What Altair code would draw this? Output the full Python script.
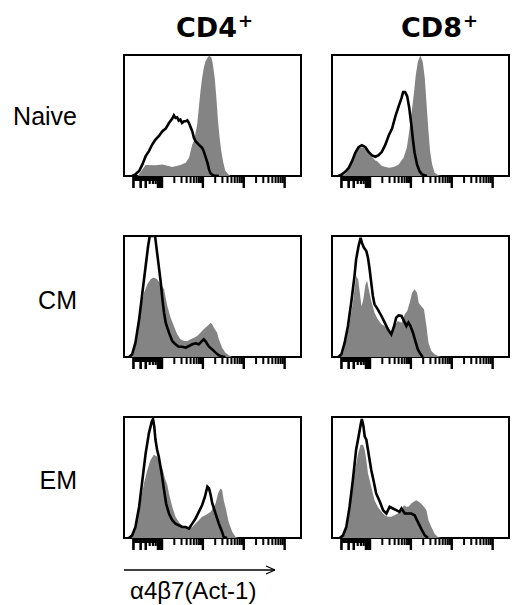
import math
import altair as alt
import pandas as pd

COLUMN_TITLES = ["CD4", "CD8"]
ROW_TITLES = ["Naive", "CM", "EM"]
X_LABEL = "α4β7(Act-1)"

# (log10 fluorescence, % of max)
CD4_NAIVE_FILL = [(0.40, 0), (0.44, 1.4), (0.52, 5.5), (0.60, 9.0), (0.84, 8.8), (1.01, 9.6), (1.13, 8.5),
                  (1.25, 7.4), (1.45, 9.0), (1.58, 11.0), (1.66, 15.1), (1.70, 20.5), (1.74, 26), (1.78, 28.8),
                  (1.82, 35.6), (1.86, 42.5), (1.90, 56.2), (1.94, 69.9), (1.98, 80.8), (2.02, 89), (2.06, 94.5),
                  (2.11, 97.8), (2.16, 99.5), (2.21, 97.8), (2.24, 93.2), (2.29, 80.8), (2.33, 64.4), (2.37, 45.2),
                  (2.41, 31.5), (2.45, 20.5), (2.50, 11), (2.55, 4.1), (2.62, 1.4), (2.67, 0)]
CD4_NAIVE_LINE = [(0.27, 0), (0.35, 1.4), (0.44, 4.1), (0.52, 9.6), (0.60, 16.4), (0.68, 20.5), (0.76, 26),
                  (0.84, 30.1), (0.92, 32.9), (1.01, 37), (1.09, 39.2), (1.17, 43.8), (1.25, 47.4), (1.29, 50.1),
                  (1.33, 48), (1.37, 48.5), (1.41, 45.8), (1.45, 46.6), (1.49, 43.8), (1.54, 45.2), (1.58, 45.2),
                  (1.62, 46), (1.66, 43.8), (1.70, 40.3), (1.74, 37), (1.78, 31.5), (1.82, 28.8), (1.90, 26),
                  (1.98, 23.3), (2.02, 20.5), (2.06, 16.4), (2.11, 11), (2.15, 5.5), (2.19, 1.9), (2.27, 0.3),
                  (2.39, 0)]

CD8_NAIVE_FILL = [(0.31, 0), (0.40, 1.9), (0.48, 5.5), (0.56, 12.3), (0.64, 17.8), (0.72, 22.7), (0.80, 23.8),
                  (0.89, 22.7), (0.97, 19.2), (1.05, 15.6), (1.13, 12.9), (1.17, 12.3), (1.29, 8.2), (1.46, 6.8),
                  (1.58, 7.4), (1.70, 9.6), (1.82, 15.1), (1.90, 23.3), (1.96, 37), (2.01, 50.7), (2.07, 67.1),
                  (2.12, 83.6), (2.17, 94.5), (2.23, 99.5), (2.29, 94.5), (2.34, 80.8), (2.39, 56.2), (2.43, 37),
                  (2.47, 20.5), (2.52, 9.6), (2.58, 2.7), (2.68, 0.5), (2.76, 0)]
CD8_NAIVE_LINE = [(0.23, 0), (0.31, 1.4), (0.40, 3.6), (0.48, 6.8), (0.56, 12.3), (0.64, 19.2), (0.72, 23.8),
                  (0.80, 25.5), (0.89, 23.8), (0.97, 19.7), (1.05, 17), (1.13, 15.9), (1.21, 17.3), (1.29, 20),
                  (1.37, 25.5), (1.46, 33.7), (1.54, 39.2), (1.62, 49.3), (1.70, 57.5), (1.77, 64.4), (1.81, 69.3),
                  (1.86, 69.3), (1.91, 65.8), (1.96, 56.2), (2.01, 42.5), (2.05, 30.1), (2.09, 19.2), (2.15, 9.6),
                  (2.21, 4.1), (2.27, 1.4), (2.39, 0)]

CD4_CM_FILL = [(0.23, 0), (0.31, 3.6), (0.40, 17.4), (0.48, 39.4), (0.56, 53.2), (0.64, 60.1), (0.72, 64.2),
               (0.80, 65.6), (0.88, 64.2), (0.97, 60.1), (1.05, 55.9), (1.13, 42.2), (1.21, 32.5), (1.29, 25.6),
               (1.37, 18.7), (1.45, 14.6), (1.54, 13.2), (1.62, 13.2), (1.70, 14.6), (1.78, 16), (1.86, 17.4),
               (1.94, 20.1), (2.02, 22.9), (2.11, 25.6), (2.19, 28.4), (2.23, 27), (2.27, 24.2), (2.35, 20.1),
               (2.39, 14.6), (2.47, 7.7), (2.55, 3.6), (2.63, 1.4), (2.72, 0)]
CD4_CM_LINE = [(0.19, 0), (0.27, 2.2), (0.35, 11.8), (0.44, 31.1), (0.52, 53.2), (0.60, 75.2), (0.66, 91.7),
               (0.70, 100), (0.83, 100), (0.86, 91.7), (0.91, 78), (0.97, 61.4), (1.01, 47.7), (1.05, 36.6),
               (1.09, 28.4), (1.17, 20.1), (1.25, 13.2), (1.33, 10.5), (1.41, 8.5), (1.49, 8.5), (1.58, 7.7),
               (1.66, 9.1), (1.74, 10.5), (1.82, 11.3), (1.90, 10.5), (1.98, 13.2), (2.02, 14.6), (2.06, 13.2),
               (2.11, 10.5), (2.15, 8.5), (2.23, 6.3), (2.31, 3.6), (2.39, 1.4), (2.47, 0.3), (2.55, 0)]

CD8_CM_FILL = [(0.26, 0), (0.34, 3.6), (0.42, 14.6), (0.50, 28.4), (0.58, 44.9), (0.62, 55.9), (0.66, 66.9),
               (0.71, 64.2), (0.75, 53.2), (0.79, 42.2), (0.83, 46.3), (0.89, 60.1), (0.93, 62.8), (0.97, 55.9),
               (1.03, 46.3), (1.11, 36.6), (1.19, 31.1), (1.28, 27), (1.36, 25.6), (1.44, 22.9), (1.52, 20.1),
               (1.60, 25.6), (1.68, 29.8), (1.77, 28.4), (1.85, 35.3), (1.91, 38), (1.97, 44.9), (2.03, 53.2),
               (2.09, 55.9), (2.15, 53.2), (2.19, 44.9), (2.25, 42.2), (2.32, 39.4), (2.38, 25.6), (2.43, 11.8),
               (2.50, 5), (2.58, 2.2), (2.66, 0.8), (2.74, 0)]
CD8_CM_LINE = [(0.22, 0), (0.30, 2.2), (0.38, 11.8), (0.46, 25.6), (0.54, 44.9), (0.62, 66.9), (0.66, 80.7),
               (0.72, 91.7), (0.77, 98.6), (0.80, 94.5), (0.85, 90.4), (0.91, 87.6), (0.95, 82.1), (0.99, 72.5),
               (1.03, 61.4), (1.07, 50.4), (1.11, 43.5), (1.19, 39.4), (1.28, 33.9), (1.36, 28.4), (1.44, 22.9),
               (1.52, 18.7), (1.59, 25.6), (1.64, 32.5), (1.70, 34.4), (1.77, 33.9), (1.83, 29.8), (1.89, 25.6),
               (1.94, 28.4), (1.99, 25.6), (2.05, 20.1), (2.11, 13.2), (2.17, 6.3), (2.24, 2.2), (2.29, 0)]

CD4_EM_FILL = [(0.23, 0), (0.31, 3.6), (0.40, 17.5), (0.48, 31.3), (0.56, 45.2), (0.64, 56.2), (0.72, 64.5),
               (0.80, 68.7), (0.88, 67.3), (0.97, 60.4), (1.02, 56.2), (1.07, 49.3), (1.13, 43.8), (1.17, 36.8),
               (1.25, 25.8), (1.33, 17.5), (1.41, 13.3), (1.49, 10.5), (1.58, 9.1), (1.66, 7.8), (1.74, 9.1),
               (1.82, 11.9), (1.90, 14.7), (1.98, 17.5), (2.06, 18.8), (2.13, 20.2), (2.19, 21.6), (2.24, 24.4),
               (2.31, 28.5), (2.37, 36.8), (2.43, 41), (2.47, 39.6), (2.51, 31.3), (2.57, 23), (2.63, 13.3),
               (2.72, 5), (2.80, 0.8), (2.88, 0)]
CD4_EM_LINE = [(0.19, 0), (0.27, 2.2), (0.35, 9.1), (0.44, 25.8), (0.52, 47.9), (0.60, 70.1), (0.68, 86.7),
               (0.75, 96.4), (0.78, 98.3), (0.81, 92.2), (0.84, 81.2), (0.88, 72.9), (0.92, 67.3), (0.99, 53.5),
               (1.05, 39.6), (1.10, 28.5), (1.17, 20.2), (1.25, 14.7), (1.33, 11.9), (1.41, 10.5), (1.49, 9.1),
               (1.58, 9.1), (1.66, 7.8), (1.74, 11.9), (1.82, 16.1), (1.90, 21.6), (1.98, 27.1), (2.05, 34.1),
               (2.11, 42.4), (2.15, 41), (2.19, 35.5), (2.23, 28.5), (2.31, 20.2), (2.39, 11.9), (2.47, 5),
               (2.51, 0.8), (2.59, 0)]

CD8_EM_FILL = [(0.30, 0), (0.38, 3.6), (0.46, 14.7), (0.54, 34.1), (0.62, 53.5), (0.71, 70.1), (0.77, 77),
               (0.83, 77), (0.87, 72.9), (0.91, 64.5), (0.95, 53.5), (1.03, 42.4), (1.11, 31.3), (1.19, 25.8),
               (1.28, 21.6), (1.36, 18.8), (1.44, 17.5), (1.52, 17.5), (1.60, 18.8), (1.68, 20.2), (1.77, 23),
               (1.83, 27.1), (1.89, 25.8), (1.94, 25.8), (2.01, 28.5), (2.07, 29.9), (2.13, 31.3), (2.19, 29.9),
               (2.25, 28.5), (2.32, 25.8), (2.38, 23), (2.43, 14.7), (2.50, 9.1), (2.58, 3.6), (2.66, 0.8),
               (2.74, 0)]
CD8_EM_LINE = [(0.26, 0), (0.34, 2.2), (0.42, 9.1), (0.50, 25.8), (0.58, 47.9), (0.66, 72.9), (0.72, 83.9),
               (0.77, 93.6), (0.80, 98.3), (0.84, 92.2), (0.87, 83.9), (0.91, 81.2), (0.95, 72.9), (0.99, 64.5),
               (1.03, 56.2), (1.10, 45.2), (1.15, 36.8), (1.24, 29.9), (1.32, 23), (1.40, 20.2), (1.48, 25.8),
               (1.56, 24.4), (1.64, 23), (1.72, 21.6), (1.77, 24.4), (1.85, 20.2), (1.93, 20.2), (2.01, 20.2),
               (2.09, 18.8), (2.17, 13.3), (2.25, 7.8), (2.34, 2.2), (2.42, 0)]

PANELS = [
    [(CD4_NAIVE_FILL, CD4_NAIVE_LINE), (CD8_NAIVE_FILL, CD8_NAIVE_LINE)],
    [(CD4_CM_FILL, CD4_CM_LINE), (CD8_CM_FILL, CD8_CM_LINE)],
    [(CD4_EM_FILL, CD4_EM_LINE), (CD8_EM_FILL, CD8_EM_LINE)],
]

# log axis: decades 10^0 .. 10^4
MAJOR_TICKS = [1, 2, 3, 4]
FIRST_DECADE_LONG = [math.log10(k) for k in (2, 3, 4, 8, 9)]
FIRST_DECADE_SHORT = [math.log10(k) for k in (5, 6, 7)]
MINOR_TICKS = [d + math.log10(k) for d in (1, 2, 3) for k in range(2, 10)]
FIRST_DECADE_SPAN = (math.log10(2), 1.0)

W, H = 177, 121
GRAY = "#848484"
XS = alt.Scale(domain=[0.07, 4.4], nice=False, zero=False)
YS = alt.Scale(domain=[0, 100], nice=False, zero=True)
SANS = "Liberation Sans"


def xenc(field):
    return alt.X(f"{field}:Q", scale=XS, axis=None)


def text_layer(txt, x, y, size, align="left", font=SANS, weight="normal"):
    return alt.Chart(pd.DataFrame({"t": [txt]})).mark_text(
        font=font, fontSize=size, fontWeight=weight, align=align, baseline="alphabetic", color="black"
    ).encode(text="t:N", x=alt.value(x), y=alt.value(y))


def rule_layer(x, x2, y, y2, color="black", width=1.5):
    return alt.Chart(pd.DataFrame({"a": [0]})).mark_rule(color=color, strokeWidth=width).encode(
        x=alt.value(x), x2=alt.value(x2), y=alt.value(y), y2=alt.value(y2)
    )


def tick_layer(positions, length, width):
    return alt.Chart(pd.DataFrame({"v": positions})).mark_rule(color="black", strokeWidth=width).encode(
        x=xenc("v"), y=alt.value(H), y2=alt.value(H + length)
    )


def band_layer():
    a, b = FIRST_DECADE_SPAN
    return alt.Chart(pd.DataFrame({"a": [a], "b": [b]})).mark_rule(color="black", strokeWidth=4).encode(
        x=xenc("a"), x2="b:Q", y=alt.value(H + 3)
    )


def panel(fill, line, extras):
    fdf = pd.DataFrame(fill, columns=["x", "y"])
    ldf = pd.DataFrame(line, columns=["x", "y"])
    area = alt.Chart(fdf).mark_area(color=GRAY, opacity=1).encode(
        x=xenc("x"), y=alt.Y("y:Q", scale=YS, axis=None)
    )
    ln = alt.Chart(ldf).mark_line(color="black", strokeWidth=2.6, clip=True).encode(
        x=xenc("x"), y=alt.Y("y:Q", scale=YS, axis=None)
    )
    layers = [area, ln,
              band_layer(),
              tick_layer(FIRST_DECADE_LONG, 12, 2.6),
              tick_layer(FIRST_DECADE_SHORT, 8, 2.2),
              tick_layer(MINOR_TICKS, 7, 2),
              tick_layer(MAJOR_TICKS, 12, 2.4)] + extras
    return alt.layer(*layers).properties(width=W, height=H)


row_baselines = [70, 73, 72]
col_title_pos = [(113, 114), (130, 131)]

cells = []
for r, row in enumerate(PANELS):
    for c, (fill, line) in enumerate(row):
        extras = []
        if c == 0:
            extras.append(text_layer(ROW_TITLES[r], -47, row_baselines[r], 25, align="right"))
        if r == 0:
            xr, xp = col_title_pos[c]
            extras.append(text_layer(COLUMN_TITLES[c], xr, -18, 27, align="right",
                                     font="DejaVu Sans", weight="bold"))
            extras.append(text_layer("+", xp, -28, 18, align="left", font="DejaVu Sans", weight="bold"))
            if c == 0:
                # invisible anchor fixing the page origin
                extras.append(rule_layer(-114, -113.6, -45, -45, color="white", width=0.4))
        if r == 2 and c == 0:
            extras.append(rule_layer(0, 151, 153, 153, width=1.3))
            extras.append(rule_layer(142, 151, 149, 153, width=1.3))
            extras.append(rule_layer(142, 151, 157, 153, width=1.3))
            extras.append(text_layer(X_LABEL, 6, 182, 24, align="left"))
        cells.append(panel(fill, line, extras))

chart = alt.concat(*cells, columns=2, spacing={"row": 60, "column": 31}, bounds="flush").properties(
    padding=0, background="white"
).configure_view(stroke="black", strokeWidth=2)

chart.save("out.html", embed_options={"renderer": "svg", "actions": False})
